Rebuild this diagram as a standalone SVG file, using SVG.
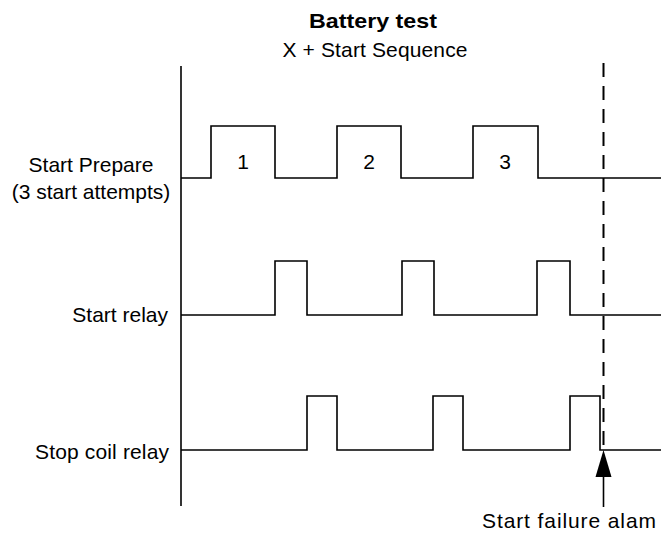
<svg xmlns="http://www.w3.org/2000/svg" width="661" height="535" viewBox="0 0 661 535">
<style>
  text { font-family: "Liberation Sans", Arial, sans-serif; font-size: 21px; fill: #000; }
  .title { font-weight: bold; }
  .mid { text-anchor: middle; }
  .end { text-anchor: end; }
  .wave { fill: none; stroke: #000; stroke-width: 1.6; }
  .dash { fill: none; stroke: #000; stroke-width: 2; stroke-dasharray: 14 9; }
</style>
<rect width="661" height="535" fill="#fff"/>
<g id="title">
  <text class="title mid" x="373" y="28" textLength="128" lengthAdjust="spacingAndGlyphs">Battery test</text>
  <text class="mid" x="375" y="57" textLength="185">X + Start Sequence</text>
</g>
<g id="axis">
  <line class="wave" x1="181" y1="66" x2="181" y2="506"/>
</g>
<g id="start-prepare">
  <text class="mid" x="91" y="172">Start Prepare</text>
  <text class="mid" x="91" y="199">(3 start attempts)</text>
  <path class="wave" d="M181,178 H211 V126 H275 V178 H337 V126 H401 V178 H473 V126 H538 V178 H661"/>
  <text class="mid" x="243" y="169">1</text>
  <text class="mid" x="369" y="169">2</text>
  <text class="mid" x="505" y="169">3</text>
</g>
<g id="start-relay">
  <text class="end" x="168" y="322">Start relay</text>
  <path class="wave" d="M181,315 H275 V261 H307 V315 H402 V261 H434 V315 H537 V261 H570 V315 H661"/>
</g>
<g id="stop-coil-relay">
  <text class="end" x="169" y="459" textLength="134">Stop coil relay</text>
  <path class="wave" d="M181,450 H307 V396 H337 V450 H433 V396 H463 V450 H570 V396 H600 V450 H661"/>
</g>
<g id="connectors">
  <line class="dash" x1="603.5" y1="63" x2="603.5" y2="450"/>
  <line class="wave" x1="603.5" y1="476" x2="603.5" y2="507"/>
  <polygon points="603.5,450 595.5,477 611.5,477" fill="#000"/>
</g>
<g id="alarm">
  <text class="mid" x="569" y="528" textLength="174">Start failure alam</text>
</g>
</svg>
